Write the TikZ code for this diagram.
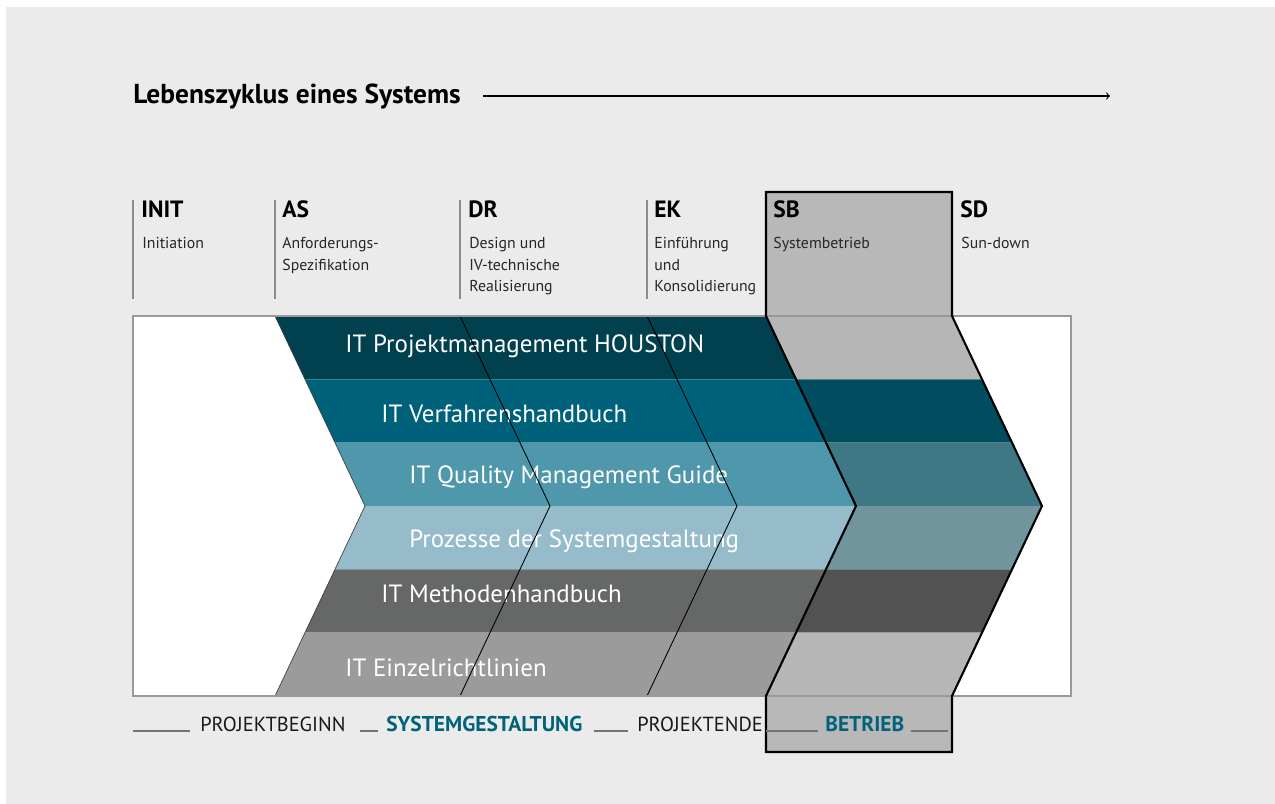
\documentclass[tikz,border=0pt]{standalone}
\usepackage{fontspec}
\setmainfont{PT Sans}
\usepackage{xcolor}
\usepackage{tikz}
\usetikzlibrary{arrows, positioning}
\definecolor{bggray}{HTML}{EBEBEB}
\definecolor{sbtab}{HTML}{B7B8B7}
\definecolor{bandA}{HTML}{00404F}
\definecolor{bandB}{HTML}{00617A}
\definecolor{bandC}{HTML}{4F97AB}
\definecolor{bandD}{HTML}{96BCCB}
\definecolor{bandE}{HTML}{666767}
\definecolor{bandF}{HTML}{9A9B9A}
\definecolor{sbA}{HTML}{B5B6B5}
\definecolor{sbB}{HTML}{014D5F}
\definecolor{sbC}{HTML}{3D7884}
\definecolor{sbD}{HTML}{72959D}
\definecolor{sbE}{HTML}{525252}
\definecolor{sbF}{HTML}{B5B6B5}
\definecolor{stageteal}{HTML}{00637A}
\tikzstyle{arrow} = [line width=0.6pt,->]
\tikzstyle{bandtext} = [anchor=base west, inner sep=0pt, text=white, font=\fontsize{14.2}{17}\selectfont]
\tikzstyle{phase} = [anchor=base west, inner sep=0pt, font=\bfseries\fontsize{13.4}{16}\selectfont]
\tikzstyle{phasedesc} = [anchor=north west, inner sep=0pt, align=left, text=black!85, font=\fontsize{9}{12.5}\selectfont]
\tikzstyle{divider} = [draw=black!45, line width=0.6pt]
\tikzstyle{stage} = [anchor=base west, inner sep=0pt, text=black!90, font=\fontsize{11.6}{13}\selectfont]
\tikzstyle{stagebold} = [stage, text=stageteal, font=\bfseries\fontsize{12.2}{13}\selectfont]
\tikzstyle{rule} = [draw=black!55, line width=0.6pt]
\tikzstyle{outline} = [draw=black, line width=1.2pt, line join=miter]

\begin{document}
\begin{tikzpicture}[x=0.02cm, y=-0.02cm]
    % Background
    \fill[white] (0,0) rectangle (1275,804);
    \fill[bggray] (6,7) rectangle (1275,804);
    \fill[white] (133,316) rectangle (1071,696);
    \fill[sbtab] (766,192) rectangle (952,316);
    \fill[sbtab] (766,696) rectangle (952,752);

    % Bands
    \foreach \i/\ot/\ob/\cola/\colb in {0/0/30/bandA/sbA, 1/30/60/bandB/sbB, 2/60/90/bandC/sbC, 3/90/60/bandD/sbD, 4/60/30/bandE/sbE, 5/30/0/bandF/sbF}
    {
        \pgfmathsetmacro\yt{316+63.333*\i}
        \pgfmathsetmacro\yb{379.333+63.333*\i}
        \fill[\cola] (275+\ot,\yt) -- (766+\ot,\yt) -- (766+\ob,\yb) -- (275+\ob,\yb) -- cycle;
        \fill[\colb] (766+\ot,\yt) -- (952+\ot,\yt) -- (952+\ob,\yb) -- (766+\ob,\yb) -- cycle;
    }

    % Title
    \node (title) [anchor=base west, inner sep=0pt, font=\bfseries\fontsize{15.6}{18}\selectfont] at (133,104) {Lebenszyklus eines Systems};
    \coordinate (lifestart) at (483,96);
    \coordinate (lifeend) at (1110,96);
    \draw [arrow] (lifestart) -- (lifeend);

    % Phases
    \node (init) [phase] at (141,218) {INIT};
    \node (initdesc) [phasedesc] at (142,236.5) {Initiation};
    \node (as) [phase] at (282,218) {AS};
    \node (asdesc) [phasedesc] at (282,236.5) {Anforderungs-\\Spezifikation};
    \node (dr) [phase] at (468,218) {DR};
    \node (drdesc) [phasedesc] at (469,236.5) {Design und\\IV-technische\\Realisierung};
    \node (ek) [phase] at (654,218) {EK};
    \node (ekdesc) [phasedesc] at (654,236.5) {Einführung\\und\\Konsolidierung};
    \node (sb) [phase] at (773,218) {SB};
    \node (sbdesc) [phasedesc] at (773,236.5) {Systembetrieb};
    \node (sd) [phase] at (960,218) {SD};
    \node (sddesc) [phasedesc] at (961,236.5) {Sun-down};
    \foreach \x in {133,275,460,647}
        \draw [divider] (\x,200) -- (\x,299);

    % Band labels
    \node (houston) [bandtext] at (345,353) {IT Projektmanagement HOUSTON};
    \node (verfahren) [bandtext] at (381,422) {IT Verfahrenshandbuch};
    \node (quality) [bandtext] at (409,483) {IT Quality Management Guide};
    \node (prozesse) [bandtext] at (409,547) {Prozesse der Systemgestaltung};
    \node (methoden) [bandtext] at (381,602) {IT Methodenhandbuch};
    \node (einzel) [bandtext] at (345,676) {IT Einzelrichtlinien};

    % Chevron lines
    \draw [black!75, line width=0.4pt] (275,316) -- (365,506) -- (275,696);
    \draw [black, line width=0.5pt] (460,316) -- (550,506) -- (460,696);
    \draw [black, line width=0.5pt] (647,316) -- (737,506) -- (647,696);
    \draw [black!40, line width=0.6pt] (133,316) rectangle (1071,696);
    \draw [outline] (766,192) -- (766,316) -- (856,506) -- (766,696) -- (766,752) -- (952,752) -- (952,696) -- (1042,506) -- (952,316) -- (952,192) -- cycle;

    % Stages
    \node (beginn) [stage] at (200,731) {PROJEKTBEGINN};
    \node (gestaltung) [stagebold] at (386,731) {SYSTEMGESTALTUNG};
    \node (ende) [stage] at (637,731) {PROJEKTENDE};
    \node (betrieb) [stagebold] at (825,731) {BETRIEB};
    \draw [rule] (133,731) -- ([xshift=-0.2cm]beginn.base west);
    \draw [rule] ([xshift=0.28cm]beginn.base east) -- ([xshift=-0.16cm]gestaltung.base west);
    \draw [rule] ([xshift=0.22cm]gestaltung.base east) -- ([xshift=-0.18cm]ende.base west);
    \draw [rule] (766,731) -- ([xshift=-0.14cm]betrieb.base west);
    \draw [rule] ([xshift=0.12cm]betrieb.base east) -- (948,731);
\end{tikzpicture}
\end{document}
